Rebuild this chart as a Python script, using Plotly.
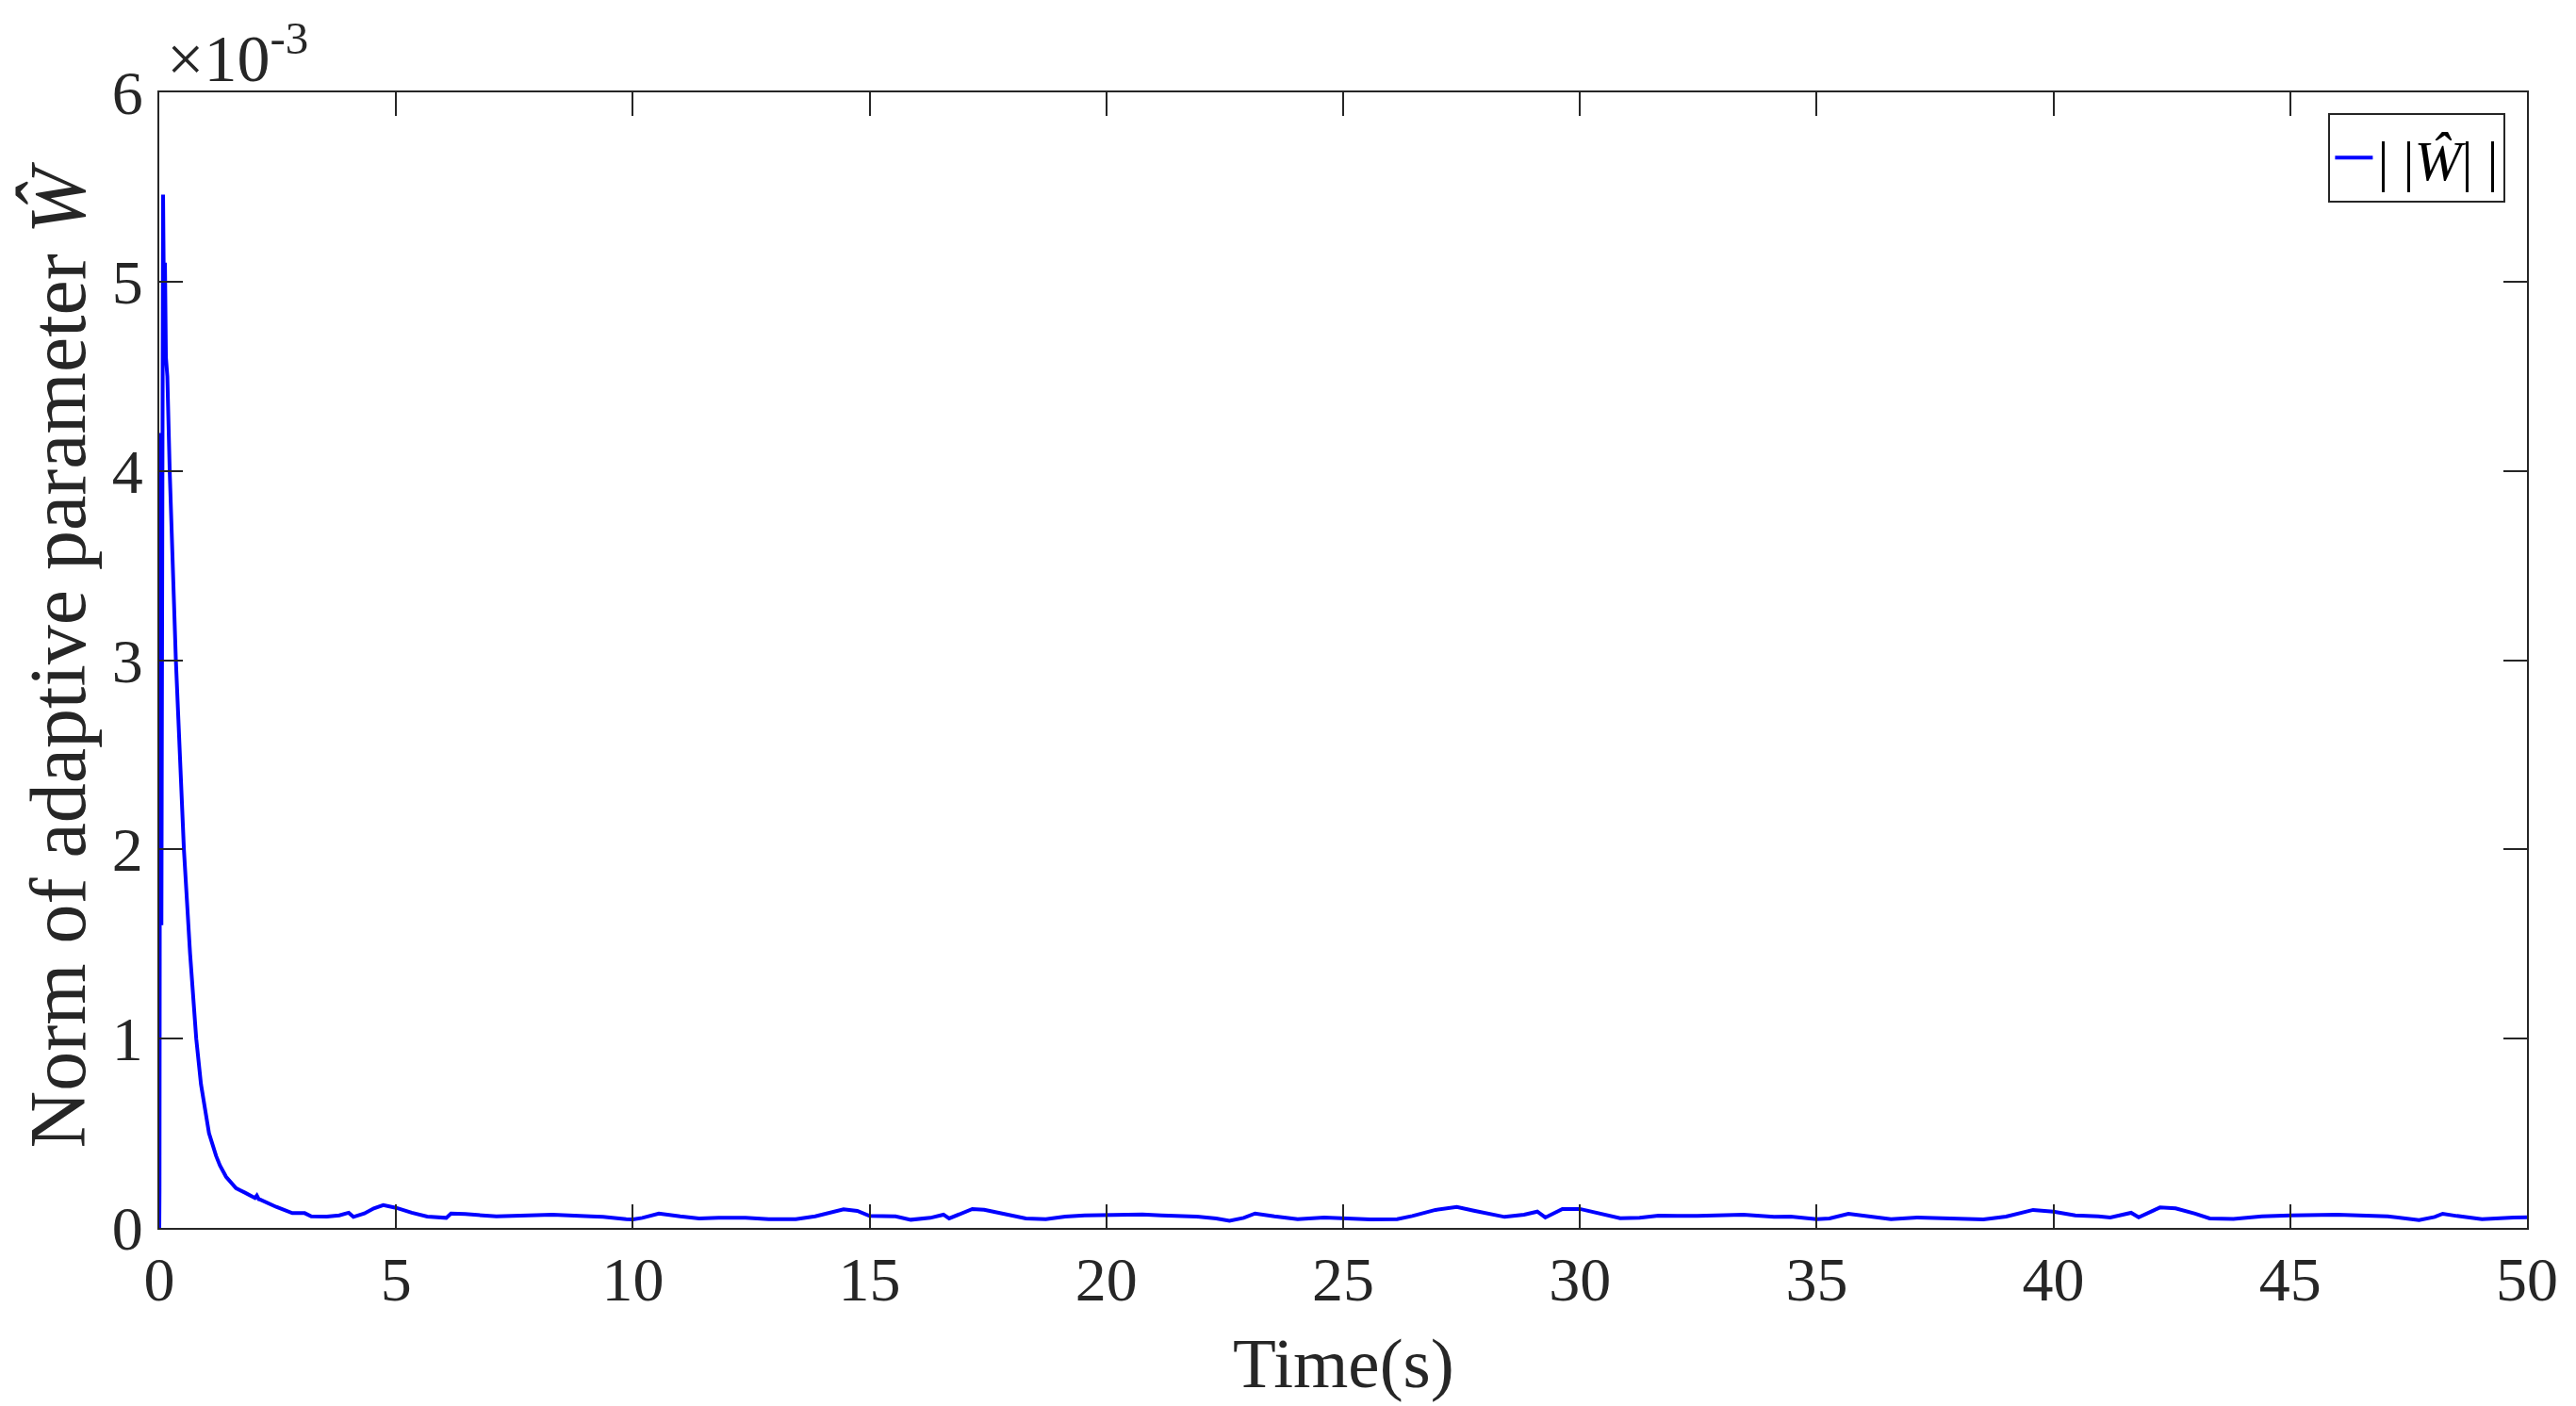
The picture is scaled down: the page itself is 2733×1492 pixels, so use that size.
import plotly.graph_objects as go

# Time (s)
t = [0.0, 0.005, 0.02, 0.045, 0.08, 0.10, 0.12, 0.14, 0.17, 0.22, 0.35, 0.52, 0.65, 0.78, 0.88,
     1.05, 1.2, 1.28, 1.41, 1.48, 1.62, 1.81, 2.02, 2.06, 2.1, 2.14, 2.47, 2.81, 3.07, 3.21,
     3.54, 3.8, 4.0, 4.1, 4.33, 4.53, 4.73, 5.0, 5.33, 5.66, 6.06, 6.16, 6.46, 7.12, 7.78,
     8.3, 9.11, 9.37, 9.86, 10.0, 10.2, 10.55, 11.0, 11.4, 11.81, 12.38, 12.87, 13.44, 13.85,
     14.25, 14.45, 14.74, 15.0, 15.55, 15.87, 16.28, 16.56, 16.68, 17.17, 17.42, 17.9, 18.3,
     18.72, 19.13, 19.54, 20.0, 20.76, 21.16, 21.9, 22.32, 22.6, 22.9, 23.14, 23.55, 24.04,
     24.6, 25.0, 25.57, 26.14, 26.46, 26.95, 27.4, 27.76, 28.08, 28.41, 28.82, 29.1, 29.27,
     29.63, 30.0, 30.45, 30.85, 31.26, 31.66, 32.48, 33.45, 34.1, 34.45, 35.0, 35.27, 35.67,
     36.08, 36.57, 37.13, 37.95, 38.52, 39.0, 39.57, 40.0, 40.46, 40.95, 41.2, 41.64, 41.8,
     42.25, 42.58, 42.99, 43.3, 43.8, 44.4, 45.0, 45.99, 47.06, 47.72, 48.05, 48.22, 48.52,
     49.05, 49.72, 50.0]

# ||W_hat|| (x 1e-3)
w_norm = [0.0, 0.2, 4.2, 1.6, 5.46, 4.85, 5.1, 4.6, 4.5, 4.0, 3.0, 2.0, 1.45, 1.0, 0.76,
          0.5, 0.38, 0.33, 0.27, 0.25, 0.21, 0.186, 0.158, 0.171, 0.152, 0.149, 0.111, 0.078,
          0.078, 0.061, 0.06, 0.066, 0.08, 0.058, 0.076, 0.103, 0.12, 0.106, 0.08, 0.06, 0.053,
          0.076, 0.073, 0.061, 0.066, 0.07, 0.061, 0.058, 0.046, 0.045, 0.053, 0.076, 0.061,
          0.05, 0.053, 0.053, 0.046, 0.046, 0.061, 0.083, 0.098, 0.09, 0.063, 0.061, 0.043,
          0.053, 0.07, 0.05, 0.1, 0.096, 0.07, 0.05, 0.046, 0.06, 0.066, 0.068, 0.071, 0.066,
          0.06, 0.05, 0.038, 0.053, 0.076, 0.061, 0.046, 0.055, 0.051, 0.045, 0.046, 0.063,
          0.095, 0.111, 0.091, 0.075, 0.058, 0.07, 0.086, 0.055, 0.1, 0.1, 0.075, 0.051, 0.053,
          0.065, 0.063, 0.07, 0.058, 0.06, 0.046, 0.05, 0.075, 0.063, 0.046, 0.055, 0.048,
          0.045, 0.06, 0.095, 0.086, 0.066, 0.061, 0.055, 0.08, 0.056, 0.108, 0.103, 0.075,
          0.05, 0.047, 0.061, 0.066, 0.07, 0.061, 0.041, 0.058, 0.075, 0.063, 0.046, 0.055,
          0.056]

x_ticks = [0, 5, 10, 15, 20, 25, 30, 35, 40, 45, 50]
y_ticks = [0, 1, 2, 3, 4, 5, 6]
y_tick_labels = ["0", "1", "2", "3", "4", "5", "6"]

FONT = "Liberation Serif"
AX = "#262626"

fig = go.Figure()
fig.add_trace(go.Scatter(
    x=t, y=w_norm, mode="lines",
    line=dict(color="#0000ff", width=4),
    name="| |<i>Ŵ</i>| |",
))

fig.update_layout(
    width=2733, height=1492,
    margin=dict(l=169, r=52, t=98, b=189, autoexpand=False),
    paper_bgcolor="white", plot_bgcolor="white",
    font=dict(family=FONT, color=AX, size=64),
    showlegend=True,
    legend=dict(
        x=0.991, y=0.982, xanchor="right", yanchor="top",
        bordercolor=AX, borderwidth=2, bgcolor="white",
        font=dict(family=FONT, size=60, color="black"),
        itemwidth=40, tracegroupgap=0,
    ),
    xaxis=dict(
        range=[0, 50], tickvals=x_ticks, ticks="inside", ticklen=25, tickwidth=2,
        tickcolor=AX, showline=True, linecolor=AX, linewidth=2, mirror="ticks",
        showgrid=False, zeroline=False, tickfont=dict(size=66, family=FONT, color=AX),
        ticklabelstandoff=-4, automargin=False,
    ),
    yaxis=dict(
        range=[0, 6], tickvals=y_ticks, ticktext=y_tick_labels, ticks="inside", ticklen=25,
        tickwidth=2, tickcolor=AX, showline=True, linecolor=AX, linewidth=2, mirror="ticks",
        showgrid=False, zeroline=False, tickfont=dict(size=66, family=FONT, color=AX),
        ticklabelstandoff=2, automargin=False,
    ),
)

# axis titles
fig.add_annotation(
    xref="paper", yref="paper", x=0.5, y=-0.1195, xanchor="center", yanchor="middle",
    showarrow=False, text="Time(s)", font=dict(size=75, family=FONT, color=AX),
)
fig.add_annotation(
    xref="paper", yref="paper", x=-0.043, y=0.505, xanchor="center", yanchor="middle",
    textangle=-90, showarrow=False, text="Norm of adaptive parameter <i>Ŵ</i>",
    font=dict(size=84, family=FONT, color=AX),
)
# exponent label
fig.add_annotation(
    xref="paper", yref="paper", x=0, y=1, xanchor="left", yanchor="bottom",
    xshift=6, yshift=-5, showarrow=False,
    text="×10<sup>-3</sup>", font=dict(size=70, family=FONT, color=AX),
)

fig.write_html("out.html", config={"displayModeBar": False},
               post_script="document.body.style.margin='0';")
